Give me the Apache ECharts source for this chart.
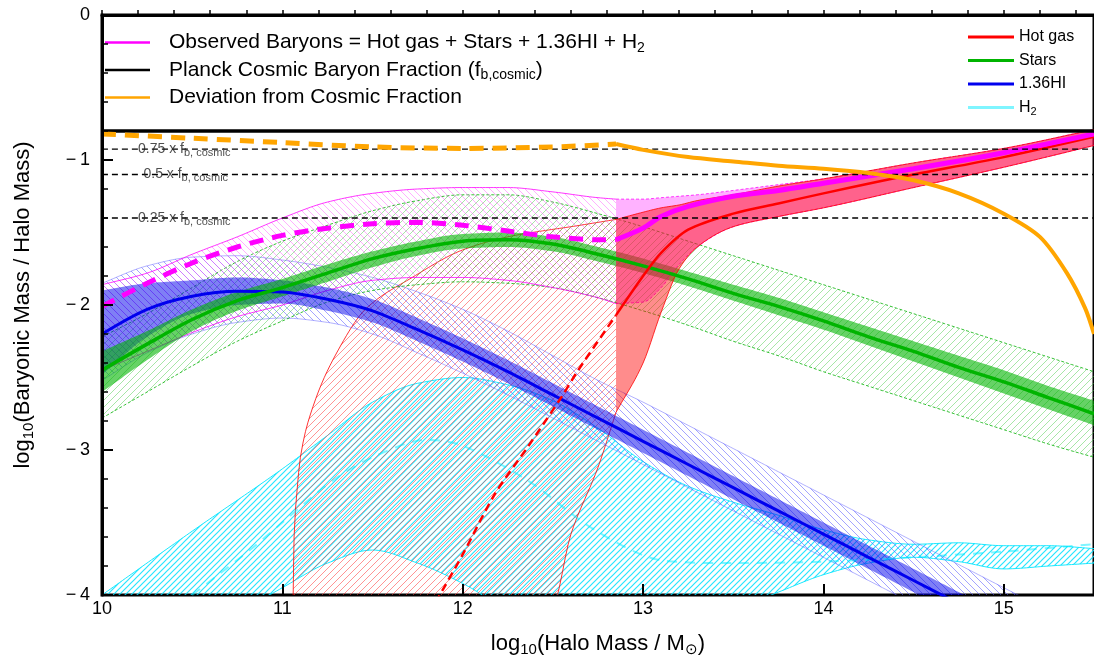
<!DOCTYPE html>
<html>
<head>
<meta charset="utf-8">
<script src="https://cdn.jsdelivr.net/npm/echarts@6/dist/echarts.min.js"></script>
<style>
  html, body { margin: 0; padding: 0; background: #fff; }
  #chart { width: 1094px; height: 663px; }
</style>
</head>
<body>
<div id="chart"></div>
<script>
// legend names
var legendMain = ['Observed Baryons = Hot gas + Stars + 1.36HI + H2', 'Planck Cosmic Baryon Fraction (fb,cosmic)', 'Deviation from Cosmic Fraction'];
var legendParts = ['Hot gas', 'Stars', '1.36HI', 'H2'];

// stars
var starsX = [10, 10.25, 10.5, 10.75, 11, 11.25, 11.5, 11.75, 12, 12.25, 12.5, 12.75, 13, 13.25, 13.5, 13.75, 14, 14.25, 14.5, 14.75, 15, 15.25, 15.5];
var starsMid = [-2.45, -2.27, -2.10, -1.97, -1.88, -1.78, -1.68, -1.61, -1.56, -1.55, -1.58, -1.65, -1.73, -1.82, -1.92, -2.01, -2.11, -2.22, -2.32, -2.43, -2.53, -2.64, -2.75];
var starsFillHi = [-2.32, -2.18, -2.03, -1.91, -1.82, -1.72, -1.63, -1.56, -1.51, -1.50, -1.53, -1.60, -1.68, -1.77, -1.86, -1.95, -2.05, -2.15, -2.25, -2.35, -2.45, -2.56, -2.66];
var starsFillLo = [-2.60, -2.38, -2.18, -2.04, -1.94, -1.84, -1.74, -1.66, -1.61, -1.60, -1.63, -1.70, -1.78, -1.87, -1.97, -2.07, -2.17, -2.28, -2.39, -2.50, -2.61, -2.72, -2.83];
var starsHatchHi = [-2.22, -2.06, -1.88, -1.70, -1.56, -1.45, -1.35, -1.28, -1.24, -1.24, -1.29, -1.37, -1.46, -1.56, -1.66, -1.76, -1.86, -1.96, -2.06, -2.16, -2.26, -2.36, -2.46];
var starsHatchLo = [-2.78, -2.60, -2.42, -2.25, -2.11, -1.98, -1.90, -1.86, -1.84, -1.85, -1.88, -1.95, -2.04, -2.14, -2.25, -2.35, -2.46, -2.56, -2.66, -2.76, -2.86, -2.96, -3.05];

// 1.36 HI
var hiX = [10, 10.25, 10.5, 10.75, 11, 11.25, 11.5, 11.75, 12, 12.25, 12.5, 12.75, 13, 13.25, 13.5, 13.75, 14, 14.25, 14.5, 14.75, 15, 15.25];
var hiMid = [-2.20, -2.03, -1.94, -1.905, -1.91, -1.96, -2.04, -2.17, -2.31, -2.46, -2.62, -2.78, -2.94, -3.10, -3.26, -3.42, -3.58, -3.74, -3.90, -4.06, -4.22, -4.38];
var hiFillHi = [-1.90, -1.85, -1.83, -1.81, -1.83, -1.88, -1.96, -2.09, -2.23, -2.38, -2.54, -2.70, -2.86, -3.02, -3.18, -3.34, -3.50, -3.66, -3.82, -3.98, -4.14, -4.30];
var hiFillLo = [-2.48, -2.22, -2.06, -2.00, -1.99, -2.04, -2.12, -2.25, -2.39, -2.54, -2.70, -2.86, -3.02, -3.18, -3.34, -3.50, -3.66, -3.82, -3.98, -4.14, -4.30, -4.46];
var hiHatchHi = [-1.85, -1.73, -1.67, -1.66, -1.69, -1.74, -1.81, -1.91, -2.03, -2.18, -2.35, -2.52, -2.67, -2.83, -2.99, -3.15, -3.31, -3.47, -3.63, -3.79, -3.95, -4.11];
var hiHatchLo = [-2.52, -2.33, -2.20, -2.12, -2.09, -2.12, -2.20, -2.33, -2.47, -2.62, -2.78, -2.94, -3.10, -3.26, -3.42, -3.58, -3.74, -3.90, -4.06, -4.22, -4.38, -4.54];

// H2
var h2X = [10, 10.5, 11, 11.25, 11.5, 11.75, 12, 12.25, 12.5, 12.75, 13, 13.25, 13.5, 13.75, 14, 14.25, 14.5, 14.75, 15, 15.25, 15.5];
var h2HatchHi = [-4.0, -3.56, -3.13, -2.90, -2.67, -2.54, -2.50, -2.55, -2.66, -2.85, -3.08, -3.25, -3.36, -3.45, -3.55, -3.62, -3.65, -3.64, -3.66, -3.66, -3.68];
var h2HatchLo = [-4.6, -4.3, -3.95, -3.78, -3.69, -3.78, -3.92, -4.1, -4.2, -4.2, -4.2, -4.15, -4.1, -3.98, -3.86, -3.78, -3.74, -3.77, -3.82, -3.80, -3.78];
var h2MidX = [10.5, 10.82, 11, 11.28, 11.5, 11.8, 12, 12.36, 12.73, 13.1, 13.5, 14, 14.5, 15, 15.5];
var h2Mid = [-4.0, -3.69, -3.5, -3.21, -3.05, -2.93, -2.97, -3.21, -3.55, -3.76, -3.78, -3.77, -3.74, -3.70, -3.65];

// hot gas
var gasHatchX = [11.06, 11.065, 11.08, 11.1, 11.17, 11.31, 11.46, 11.72, 12.0, 12.25, 12.49, 12.6, 12.75, 12.85];
var gasHatchHi = [-4.0, -3.6, -3.3, -3.05, -2.70, -2.31, -2.03, -1.81, -1.62, -1.53, -1.48, -1.46, -1.43, -1.41];
var gasHatchLo = [-4.1, -4.1, -4.1, -4.1, -4.1, -4.1, -4.1, -4.1, -4.1, -4.1, -4.1, -3.58, -3.12, -2.74];
var gasDashX = [11.85, 12.0, 12.18, 12.36, 12.55, 12.64, 12.85];
var gasDash = [-4.05, -3.72, -3.30, -2.98, -2.63, -2.45, -2.07];
var gasX = [12.85, 13.0, 13.1, 13.2, 13.3, 13.5, 13.75, 14.0, 14.5, 15.0, 15.5];
var gasHi = [-1.41, -1.36, -1.33, -1.31, -1.28, -1.24, -1.18, -1.13, -1.02, -0.92, -0.79];
var gasLo = [-2.74, -2.40, -2.05, -1.75, -1.60, -1.46, -1.39, -1.33, -1.19, -1.05, -0.90];
var gasMidX = [12.85, 13.0, 13.1, 13.25, 13.5, 13.75, 14.0, 14.3, 14.5, 15.0, 15.5];
var gasMid = [-2.07, -1.80, -1.64, -1.48, -1.37, -1.30, -1.23, -1.15, -1.10, -0.98, -0.84];

// observed baryons
var obsHatchX = [10, 10.25, 10.5, 10.75, 11, 11.25, 11.5, 11.75, 12, 12.25, 12.5, 12.75, 12.85];
var obsHatchHi = [-1.86, -1.78, -1.65, -1.53, -1.40, -1.29, -1.23, -1.20, -1.19, -1.19, -1.22, -1.26, -1.27];
var obsHatchLo = [-2.45, -2.32, -2.19, -2.08, -2.00, -1.90, -1.83, -1.81, -1.81, -1.83, -1.88, -1.95, -1.99];
var obsDash = [-2.01, -1.85, -1.71, -1.60, -1.52, -1.47, -1.44, -1.43, -1.45, -1.49, -1.53, -1.55, -1.55];
var obsBandHi = [-1.27, -1.27, -1.26, -1.25, -1.24, -1.21, -1.17, -1.13, -1.02, -0.92, -0.79];
var obsBandLo = [-1.99, -1.98, -1.88, -1.72, -1.60, -1.46, -1.39, -1.33, -1.19, -1.05, -0.90];
var obsX = [12.85, 13.0, 13.1, 13.25, 13.5, 13.75, 14.0, 14.5, 15.0, 15.5];
var obs = [-1.55, -1.47, -1.39, -1.32, -1.25, -1.21, -1.16, -1.06, -0.95, -0.82];

// deviation from cosmic fraction
var devDashX = [10, 10.5, 11, 11.5, 12, 12.5, 12.85];
var devDash = [-0.82, -0.85, -0.88, -0.91, -0.92, -0.91, -0.89];
var devX = [12.85, 13.0, 13.25, 13.5, 13.75, 14.0, 14.25, 14.5, 14.75, 15.0, 15.2, 15.35, 15.45, 15.5];
var dev = [-0.89, -0.93, -0.98, -1.01, -1.04, -1.06, -1.09, -1.14, -1.23, -1.37, -1.53, -1.78, -2.02, -2.2];

// cosmic fraction and its multiples
var cosmicX = [10, 15.5];
var cosmicY = -0.80;
var fracY = [-0.925, -1.10, -1.40];
var fracText = ['0.75 x f', '0.5 x f', '0.25 x f'];
var fracLabelX = [10.2, 10.23, 10.2];

function pts(xs, ys) {
  return xs.map(function (x, i) { return [x, ys[i]]; });
}

// monotone cubic through pixel points (x increasing)
function smoothPts(p) {
  var n = p.length;
  if (n < 3) return p;
  var dx = [], d = [], m = [], out = [], i;
  for (i = 0; i < n - 1; i++) {
    dx[i] = Math.max(p[i + 1][0] - p[i][0], 1e-6);
    d[i] = (p[i + 1][1] - p[i][1]) / dx[i];
  }
  m[0] = d[0]; m[n - 1] = d[n - 2];
  for (i = 1; i < n - 1; i++) {
    if (d[i - 1] * d[i] <= 0) { m[i] = 0; }
    else {
      var w1 = 2 * dx[i] + dx[i - 1], w2 = dx[i] + 2 * dx[i - 1];
      m[i] = (w1 + w2) / (w1 / d[i - 1] + w2 / d[i]);
    }
  }
  for (i = 0; i < n - 1; i++) {
    var h = dx[i], steps = Math.max(2, Math.ceil(h / 3));
    for (var s = 0; s < steps; s++) {
      var t = s / steps, t2 = t * t, t3 = t2 * t;
      var y = (2 * t3 - 3 * t2 + 1) * p[i][1] + (t3 - 2 * t2 + t) * h * m[i] +
              (-2 * t3 + 3 * t2) * p[i + 1][1] + (t3 - t2) * h * m[i + 1];
      out.push([p[i][0] + t * h, y]);
    }
  }
  out.push(p[n - 1]);
  return out;
}

function hatch(color, dir, size, width) {
  var c = document.createElement('canvas');
  c.width = size; c.height = size;
  var g = c.getContext('2d');
  g.strokeStyle = color;
  g.lineWidth = width;
  g.beginPath();
  for (var k = -1; k <= 2; k++) {
    if (dir === '/') {
      g.moveTo(-1, k * size + 1);
      g.lineTo(size + 1, k * size - size - 1);
    } else {
      g.moveTo(-1, k * size - 1);
      g.lineTo(size + 1, k * size + size + 1);
    }
  }
  g.stroke();
  return { image: c, repeat: 'repeat' };
}

// filled band between lo and hi
function band(xs, lo, hi, fill, edge, z) {
  return {
    type: 'custom', coordinateSystem: 'cartesian2d', clip: true, silent: true, z: z,
    data: [[xs[0], hi[0]]],
    renderItem: function (params, api) {
      var U = smoothPts(xs.map(function (x, i) { return api.coord([x, hi[i]]); }));
      var D = smoothPts(xs.map(function (x, i) { return api.coord([x, lo[i]]); }));
      var kids = [{ type: 'polygon', shape: { points: U.concat(D.slice().reverse()) }, style: { fill: fill, stroke: null } }];
      if (edge) {
        [U, D].forEach(function (P) {
          kids.push({ type: 'polyline', shape: { points: P },
            style: { fill: null, stroke: edge.color, lineWidth: edge.width, lineDash: edge.dash || null } });
        });
      }
      return { type: 'group', children: kids };
    }
  };
}

function line(name, xs, ys, color, width, type, z) {
  return {
    name: name, type: 'line', data: pts(xs, ys), smooth: 0.3, symbol: 'none', showSymbol: false,
    lineStyle: { color: color, width: width, type: type || 'solid' }, itemStyle: { color: color }, z: z || 5, silent: true
  };
}

var series = [
  band(h2X, h2HatchLo, h2HatchHi, hatch('rgba(0,225,255,0.85)', '/', 6, 1.2), { color: 'rgba(0,230,255,0.9)', width: 1 }, 1),
  band(gasHatchX, gasHatchLo, gasHatchHi, hatch('rgba(255,60,60,0.55)', '/', 7, 1), { color: '#ff0000', width: 0.8 }, 1),
  band(hiX, hiHatchLo, hiHatchHi, hatch('rgba(90,90,255,0.55)', '\\', 7, 1), { color: 'rgba(90,90,255,0.6)', width: 0.8 }, 1),
  band(starsX, starsHatchLo, starsHatchHi, hatch('rgba(60,200,60,0.45)', '/', 7, 1), { color: '#00b000', width: 0.8, dash: [3, 2] }, 1),
  band(obsHatchX, obsHatchLo, obsHatchHi, hatch('rgba(255,80,255,0.45)', '\\', 7, 1), { color: '#ff00ff', width: 0.8 }, 1),
  band(hiX, hiFillLo, hiFillHi, 'rgba(0,0,235,0.5)', null, 2),
  band(starsX, starsFillLo, starsFillHi, 'rgba(0,180,0,0.6)', null, 2),
  band(gasX, obsBandLo, obsBandHi, 'rgba(255,0,255,0.3)', { color: '#ff00ff', width: 0.8, dash: [3, 2] }, 2),
  band(gasX, gasLo, gasHi, 'rgba(255,0,0,0.45)', { color: '#ff0000', width: 0.8 }, 2)
];

series.push(line('H2', h2MidX, h2Mid, 'rgba(0,235,255,0.5)', 2, [10, 8], 3));
series.push(line('1.36HI', hiX, hiMid, '#0000ee', 3, 'solid', 4));
series.push(line('Stars', starsX, starsMid, '#00b400', 3.5, 'solid', 4));
series.push(line('Hot gas', gasMidX, gasMid, '#ff0000', 2.5, 'solid', 4));
series.push(line('gasDash', gasDashX, gasDash, '#ff0000', 2.5, [8, 5], 4));
series.push(line('obsDash', obsHatchX, obsDash, '#ff00ff', 5, [14, 9], 5));
series.push(line(legendMain[0], obsX, obs, '#ff00ff', 5, 'solid', 5));

fracY.forEach(function (y, i) {
  series.push(line('frac' + i, cosmicX, [y, y], '#000', 1.3, [6, 4], 6));
  series.push({
    type: 'scatter', data: [[fracLabelX[i], y]], symbolSize: 0, z: 7, silent: true,
    label: {
      show: true, position: 'right', distance: 0, color: '#222', fontSize: 14,
      formatter: fracText[i] + '{s|b, cosmic}',
      rich: { s: { fontSize: 11, verticalAlign: 'bottom', lineHeight: 11 } },
      lineHeight: 18
    }
  });
});
series.push(line(legendMain[1], cosmicX, [cosmicY, cosmicY], '#000', 3.5, 'solid', 6));
series.push(line('devDash', devDashX, devDash, '#ffa500', 5, [14, 9], 6));
series.push(line(legendMain[2], devX, dev, '#ffa500', 4, 'solid', 6));

var richNames = {
  'Observed Baryons = Hot gas + Stars + 1.36HI + H2': 'Observed Baryons = Hot gas + Stars + 1.36HI + H{s|2}',
  'Planck Cosmic Baryon Fraction (fb,cosmic)': 'Planck Cosmic Baryon Fraction (f{s|b,cosmic})',
  'Deviation from Cosmic Fraction': 'Deviation from Cosmic Fraction',
  'Hot gas': 'Hot gas', 'Stars': 'Stars', '1.36HI': '1.36HI', 'H2': 'H{s|2}'
};

var chart = echarts.init(document.getElementById('chart'));
chart.setOption({
  animation: false,
  backgroundColor: '#fff',
  textStyle: { fontFamily: 'Liberation Sans, Arial, sans-serif' },
  grid: { left: 102, right: -2, top: 15, bottom: 68, show: true, borderColor: '#000', borderWidth: 3, backgroundColor: 'transparent' },
  legend: [
    {
      data: legendMain, orient: 'vertical', left: 100, top: 25, itemWidth: 45, itemHeight: 2.5, itemGap: 2.5, icon: 'rect',
      selectedMode: false,
      formatter: function (n) { return richNames[n]; },
      textStyle: { fontSize: 21, color: '#000', lineHeight: 25, padding: [0, 0, 0, 14],
        rich: { s: { fontSize: 14, verticalAlign: 'bottom', lineHeight: 14 } } }
    },
    {
      data: legendParts, orient: 'vertical', left: 963, top: 22, itemWidth: 46, itemHeight: 3, itemGap: 3.5, icon: 'rect',
      selectedMode: false,
      formatter: function (n) { return richNames[n]; },
      textStyle: { fontSize: 16, color: '#000', lineHeight: 20,
        rich: { s: { fontSize: 11, verticalAlign: 'bottom', lineHeight: 11 } } }
    }
  ],
  xAxis: [
    {
      type: 'value', min: 10, max: 15.5, interval: 0.2, position: 'bottom', z: 10,
      axisLine: { lineStyle: { color: '#000', width: 3 } },
      axisTick: { inside: true, length: 5, lineStyle: { color: '#000', width: 1.5 } },
      axisLabel: { color: '#000', fontSize: 18, margin: 5, showMaxLabel: false,
        formatter: function (v) { return Math.abs(v - Math.round(v)) < 1e-6 ? String(Math.round(v)) : ''; } },
      splitLine: { show: false },
      name: 'log{s|10}(Halo Mass / M{s|\u2299})', nameLocation: 'middle', nameGap: 36,
      nameTextStyle: { fontSize: 22, color: '#000', lineHeight: 26,
        rich: { s: { fontSize: 15, verticalAlign: 'bottom', lineHeight: 15 } } }
    },
    {
      type: 'value', min: 10, max: 15.5, interval: 1, position: 'top', offset: -580, z: 10,
      axisLine: { show: false },
      axisTick: { inside: false, length: 11, lineStyle: { color: '#000', width: 2 } },
      axisLabel: { show: false }, splitLine: { show: false }
    }
  ],
  yAxis: {
    type: 'value', min: -4, max: 0, interval: 1, z: 10,
    axisLine: { show: true, lineStyle: { color: '#000', width: 3 } },
    axisTick: { inside: true, length: 11, lineStyle: { color: '#000', width: 2 } },
    minorTick: { show: true, splitNumber: 5, length: 6, lineStyle: { color: '#000', width: 1.5 } },
    axisLabel: { color: '#000', fontSize: 18, margin: 12,
      formatter: function (v) { return v === 0 ? '0' : '\u2212\u2009' + (-v); } },
    splitLine: { show: false },
    name: 'log{s|10}(Baryonic Mass / Halo Mass)', nameLocation: 'middle', nameGap: 66,
    nameTextStyle: { fontSize: 22, color: '#000', lineHeight: 26,
      rich: { s: { fontSize: 15, verticalAlign: 'bottom', lineHeight: 15 } } }
  },
  series: series
});
</script>
</body>
</html>
